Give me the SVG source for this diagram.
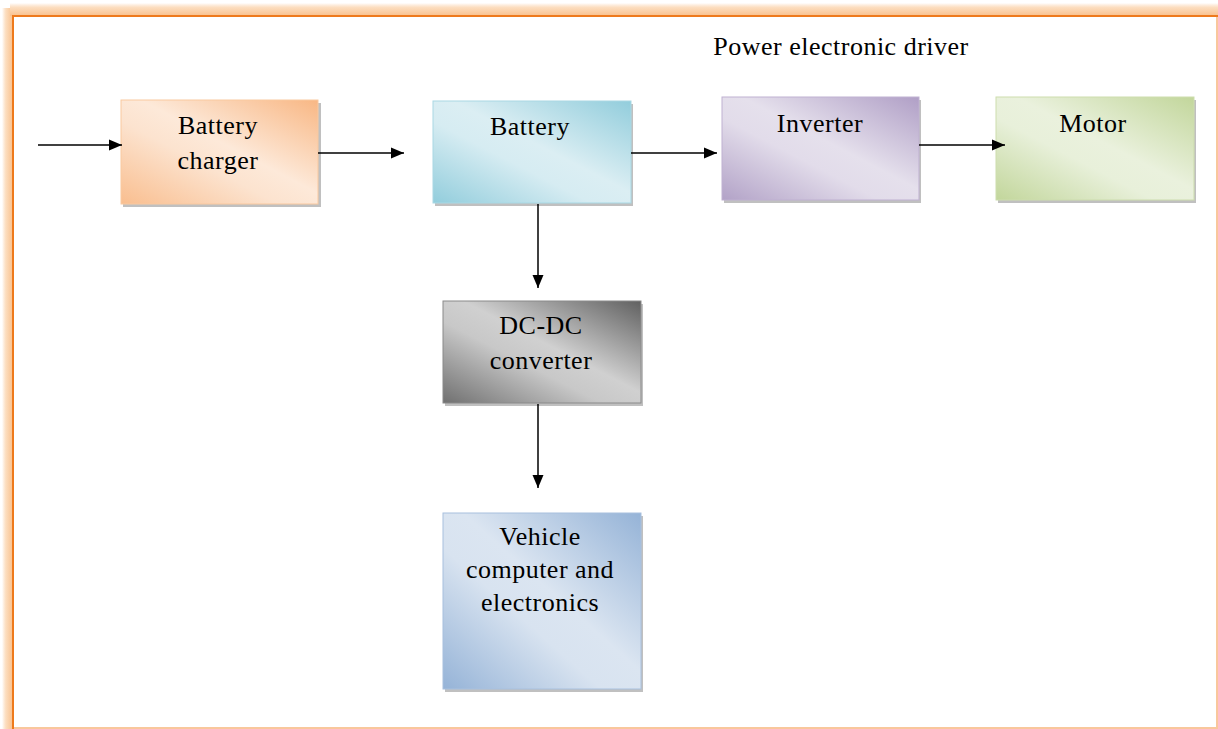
<svg xmlns="http://www.w3.org/2000/svg" width="1218" height="729" viewBox="0 0 1218 729">
<defs>
<style>
.lbl{font-family:"Liberation Serif","Times New Roman",serif;font-size:26px;letter-spacing:0.5px;fill:#000;text-anchor:middle}
.conn{stroke:#000;stroke-width:1.5;fill:none}
.shadow{fill:#8c8c8c;opacity:0.55}
</style>
<marker id="ah" markerWidth="13" markerHeight="12" refX="13" refY="6" orient="auto" markerUnits="userSpaceOnUse" viewBox="0 0 13 12">
<path d="M0,0.5 L13,6 L0,11.5 Z" fill="#000"/>
</marker>
<linearGradient id="gOr" x1="1" y1="0" x2="0" y2="1"><stop offset="0" stop-color="#F8B784"/><stop offset="0.45" stop-color="#FDE9D9"/><stop offset="0.6" stop-color="#FCE3CF"/><stop offset="1" stop-color="#F9BE8F"/></linearGradient>
<linearGradient id="gBl" x1="1" y1="0" x2="0" y2="1"><stop offset="0" stop-color="#92CDDC"/><stop offset="0.45" stop-color="#DBEEF3"/><stop offset="0.6" stop-color="#D6ECF2"/><stop offset="1" stop-color="#92CDDC"/></linearGradient>
<linearGradient id="gPu" x1="1" y1="0" x2="0" y2="1"><stop offset="0" stop-color="#B09FC6"/><stop offset="0.45" stop-color="#E5E0EC"/><stop offset="0.6" stop-color="#E2DCEA"/><stop offset="1" stop-color="#B2A2C7"/></linearGradient>
<linearGradient id="gGr" x1="1" y1="0" x2="0" y2="1"><stop offset="0" stop-color="#C2D69B"/><stop offset="0.45" stop-color="#EAF1DD"/><stop offset="0.6" stop-color="#E8F0DA"/><stop offset="1" stop-color="#C2D69B"/></linearGradient>
<linearGradient id="gGy" x1="1" y1="0" x2="0" y2="1"><stop offset="0" stop-color="#606060"/><stop offset="0.45" stop-color="#D0D0D0"/><stop offset="0.6" stop-color="#C8C8C8"/><stop offset="1" stop-color="#707070"/></linearGradient>
<linearGradient id="gSb" x1="1" y1="0" x2="0" y2="1"><stop offset="0" stop-color="#95B3D7"/><stop offset="0.45" stop-color="#DBE5F1"/><stop offset="0.6" stop-color="#D8E3F0"/><stop offset="1" stop-color="#95B3D7"/></linearGradient>
<linearGradient id="glowL" x1="0" y1="0" x2="1" y2="0"><stop offset="0" stop-color="#FBD4B0" stop-opacity="0"/><stop offset="0.35" stop-color="#FCDDBE"/><stop offset="1" stop-color="#F9C08C"/></linearGradient>
<linearGradient id="glowT" x1="0" y1="0" x2="0" y2="1"><stop offset="0" stop-color="#FBD4B0" stop-opacity="0"/><stop offset="0.35" stop-color="#FCDDBE"/><stop offset="1" stop-color="#F9C08C"/></linearGradient>
</defs>
<rect width="1218" height="729" fill="#fff"/>
<g id="frame">
<rect x="2" y="8" width="11" height="721" fill="url(#glowL)"/>
<rect x="10" y="3" width="1208" height="13" fill="url(#glowT)"/>
<path d="M13,729 L13,16 L1218,16" fill="none" stroke="#EE7A1C" stroke-width="2"/>
<path d="M1217,17 L1217,728 L14,728" fill="none" stroke="#F9C79C" stroke-width="2"/>
</g>
<g id="title"><text class="lbl" x="841" y="55">Power electronic driver</text></g>
<g id="battery-charger">
<rect class="shadow" x="123" y="103" width="198" height="104"/>
<rect x="121" y="100" width="197" height="104" fill="url(#gOr)" stroke="#F9C9A0" stroke-width="1"/>
<text class="lbl" x="218" y="134">Battery</text>
<text class="lbl" x="218" y="169">charger</text>
</g>
<g id="battery">
<rect class="shadow" x="435" y="104" width="198" height="102"/>
<rect x="433" y="101" width="198" height="102" fill="url(#gBl)" stroke="#A9D8E4" stroke-width="1"/>
<text class="lbl" x="530" y="135">Battery</text>
</g>
<g id="inverter">
<rect class="shadow" x="724" y="100" width="197" height="103"/>
<rect x="722" y="97" width="197" height="103" fill="url(#gPu)" stroke="#BFB1D1" stroke-width="1"/>
<text class="lbl" x="820" y="132">Inverter</text>
</g>
<g id="motor">
<rect class="shadow" x="998" y="100" width="198" height="103"/>
<rect x="996" y="97" width="198" height="103" fill="url(#gGr)" stroke="#CDDDAE" stroke-width="1"/>
<text class="lbl" x="1093" y="132">Motor</text>
</g>
<g id="dc-dc-converter">
<rect class="shadow" x="445" y="304" width="198" height="102"/>
<rect x="443" y="301" width="198" height="102" fill="url(#gGy)" stroke="#8a8a8a" stroke-width="1"/>
<text class="lbl" x="541" y="334">DC-DC</text>
<text class="lbl" x="541" y="369">converter</text>
</g>
<g id="vehicle-computer">
<rect class="shadow" x="445" y="516" width="198" height="176"/>
<rect x="443" y="513" width="198" height="176" fill="url(#gSb)" stroke="#A8C0DE" stroke-width="1"/>
<text class="lbl" x="540" y="545">Vehicle</text>
<text class="lbl" x="540" y="578">computer and</text>
<text class="lbl" x="540" y="611">electronics</text>
</g>
<g id="connectors">
<line class="conn" x1="38" y1="145" x2="122" y2="145" marker-end="url(#ah)"/>
<line class="conn" x1="318" y1="153" x2="404" y2="153" marker-end="url(#ah)"/>
<line class="conn" x1="631" y1="153" x2="717" y2="153" marker-end="url(#ah)"/>
<line class="conn" x1="919" y1="145" x2="1005" y2="145" marker-end="url(#ah)"/>
<line class="conn" x1="538" y1="204" x2="538" y2="288" marker-end="url(#ah)"/>
<line class="conn" x1="538" y1="404" x2="538" y2="488" marker-end="url(#ah)"/>
</g>
</svg>
